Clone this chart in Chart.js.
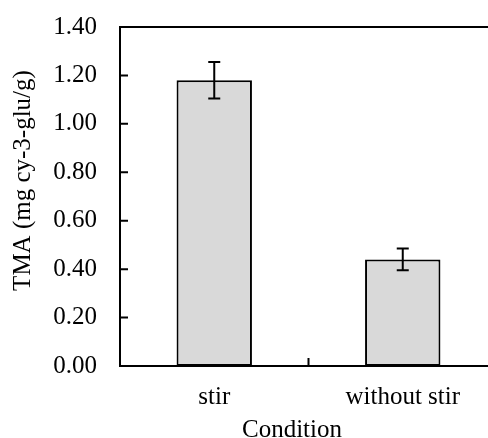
<!DOCTYPE html>
<html>
<head>
<meta charset="utf-8">
<script src="https://cdn.jsdelivr.net/npm/chart.js@4/dist/chart.umd.min.js"></script>
<style>
  html, body { margin: 0; padding: 0; background: #fff; overflow: hidden; }
  #wrap { width: 500px; height: 438px; position: relative; }
</style>
</head>
<body>
<div id="wrap"><canvas id="chart"></canvas></div>
<script>
// 数据
const categories = ["stir", "without stir"];
const tmaValues = [1.18, 0.44];
const tmaErrors = [0.075, 0.045];
const yTicks = [0, 0.2, 0.4, 0.6, 0.8, 1.0, 1.2, 1.4];

const FONT = "'Liberation Serif', 'Times New Roman', serif";
const Y_TITLE = "TMA (mg cy-3-glu/g)";
const X_TITLE = "Condition";

// 误差线 + 刻度 + 上边框
const extras = {
  id: "extras",
  afterDatasetsDraw(chart) {
    const { ctx } = chart;
    const x = chart.scales.x, y = chart.scales.y;
    ctx.save();
    ctx.strokeStyle = "#000";
    ctx.lineWidth = 2;
    tmaValues.forEach((v, i) => {
      const cx = x.getPixelForValue(i);
      const top = y.getPixelForValue(v + tmaErrors[i]);
      const bot = y.getPixelForValue(v - tmaErrors[i]);
      ctx.beginPath();
      ctx.moveTo(cx, top); ctx.lineTo(cx, bot);
      ctx.moveTo(cx - 6, top); ctx.lineTo(cx + 6, top);
      ctx.moveTo(cx - 6, bot); ctx.lineTo(cx + 6, bot);
      ctx.stroke();
    });
    ctx.restore();
  },
  afterDraw(chart) {
    const { ctx, chartArea: a } = chart;
    const x = chart.scales.x, y = chart.scales.y;
    ctx.save();
    ctx.strokeStyle = "#000";
    ctx.lineWidth = 2;
    ctx.beginPath();
    // 上边框
    ctx.moveTo(a.left - 1, a.top); ctx.lineTo(a.right, a.top);
    // y 刻度（朝内）
    yTicks.forEach(t => {
      const py = y.getPixelForValue(t);
      ctx.moveTo(a.left, py); ctx.lineTo(a.left + 8, py);
    });
    // x 分类分隔刻度
    for (let i = 0; i < categories.length - 1; i++) {
      const px = (x.getPixelForValue(i) + x.getPixelForValue(i + 1)) / 2;
      ctx.moveTo(px, a.bottom); ctx.lineTo(px, a.bottom - 8);
    }
    ctx.stroke();

    // 轴标题
    ctx.fillStyle = "#000";
    ctx.font = "25px " + FONT;
    ctx.textAlign = "center";
    ctx.textBaseline = "alphabetic";
    ctx.fillText(X_TITLE, 292, 437);
    ctx.translate(30, 180.5);
    ctx.rotate(-Math.PI / 2);
    ctx.fillText(Y_TITLE, 0, 0);
    ctx.restore();
  }
};

new Chart(document.getElementById("chart"), {
  type: "bar",
  data: {
    labels: categories,
    datasets: [{
      data: tmaValues,
      backgroundColor: "#d9d9d9",
      borderColor: "#000",
      borderWidth: 2,
      borderSkipped: false,
      barPercentage: 0.4,
      categoryPercentage: 1.0,
    }],
  },
  options: {
    responsive: true,
    maintainAspectRatio: false,
    animation: false,
    layout: { padding: { top: 27, right: 3, left: 0, bottom: 0 } },
    plugins: { legend: { display: false }, tooltip: { enabled: false } },
    scales: {
      x: {
        grid: { display: false, drawTicks: false },
        border: { display: true, color: "#000", width: 2 },
        ticks: { color: "#000", font: { family: FONT, size: 25 }, padding: 16, maxRotation: 0 },
        afterFit(s) { s.height = 72; s.paddingLeft = 0; s.paddingRight = 0; },
      },
      y: {
        min: 0, max: 1.4,
        grid: { display: false, drawTicks: false },
        border: { display: true, color: "#000", width: 2 },
        ticks: {
          stepSize: 0.2, color: "#000", padding: 23,
          font: { family: FONT, size: 25 },
          callback: v => v.toFixed(2),
        },
        afterFit(s) { s.width = 120; s.paddingTop = 0; s.paddingBottom = 0; },
      },
    },
  },
  plugins: [extras],
});
</script>
</body>
</html>
